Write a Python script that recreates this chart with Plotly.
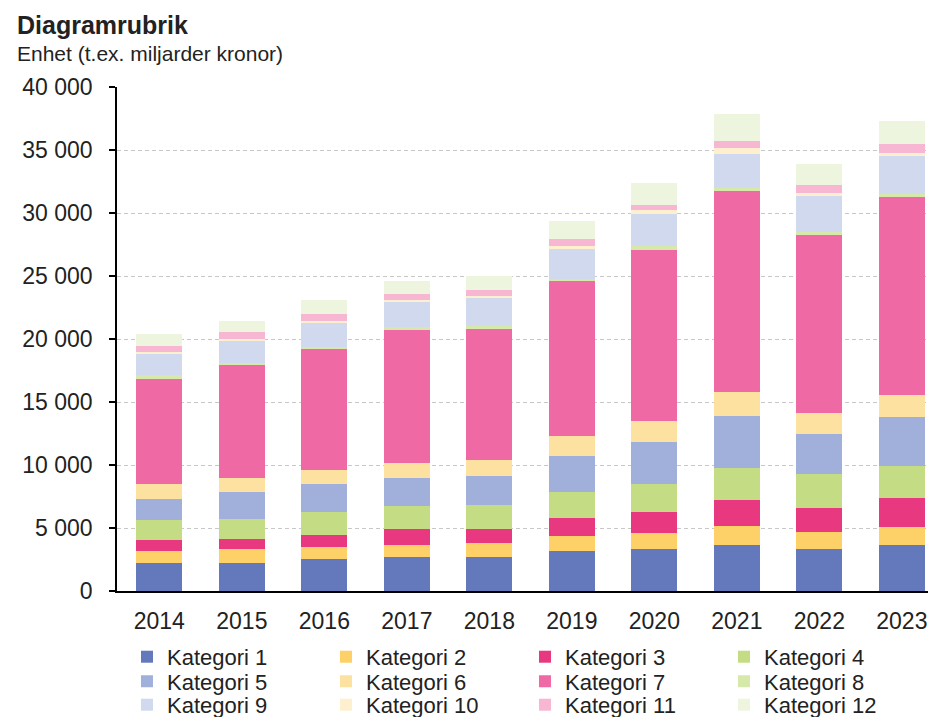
import plotly.graph_objects as go

years = ["2014", "2015", "2016", "2017", "2018", "2019", "2020", "2021", "2022", "2023"]

kat1 = [2240, 2240, 2550, 2710, 2710, 3210, 3370, 3690, 3350, 3690]
kat2 = [920, 1110, 950, 980, 1110, 1140, 1240, 1450, 1310, 1400]
kat3 = [850, 810, 980, 1240, 1110, 1450, 1640, 2060, 1940, 2300]
kat4 = [1610, 1590, 1770, 1800, 1930, 2070, 2250, 2570, 2720, 2560]
kat5 = [1720, 2090, 2250, 2250, 2250, 2880, 3360, 4150, 3170, 3830]
kat6 = [1140, 1140, 1080, 1190, 1260, 1580, 1610, 1880, 1640, 1800]
kat7 = [8370, 8980, 9650, 10520, 10450, 12240, 13610, 15960, 14140, 15680]
kat8 = [260, 140, 140, 270, 240, 220, 270, 260, 260, 260]
kat9 = [1670, 1790, 1950, 1980, 2250, 2350, 2550, 2650, 2780, 3020]
kat10 = [210, 140, 130, 180, 130, 260, 300, 480, 270, 210]
kat11 = [450, 500, 530, 450, 480, 530, 450, 600, 660, 710]
kat12 = [930, 920, 1140, 1060, 1050, 1440, 1770, 2090, 1640, 1880]

series_names = ["Kategori 1", "Kategori 2", "Kategori 3", "Kategori 4",
                "Kategori 5", "Kategori 6", "Kategori 7", "Kategori 8",
                "Kategori 9", "Kategori 10", "Kategori 11", "Kategori 12"]
series_values = [kat1, kat2, kat3, kat4, kat5, kat6, kat7, kat8, kat9, kat10, kat11, kat12]
colors = ["#6479bb", "#fdd068", "#e8387f", "#c4dd85",
          "#a1b0da", "#fde1a0", "#ef6aa4", "#d6e8aa",
          "#d0d9ee", "#fef0cf", "#f7b6d2", "#eef5de"]

y_ticks = [0, 5000, 10000, 15000, 20000, 25000, 30000, 35000, 40000]

FONT = "Liberation Sans, Arial, sans-serif"
TXT = "#222222"
legend_ids = ["legend", "legend", "legend", "legend",
              "legend2", "legend2", "legend2", "legend2",
              "legend3", "legend3", "legend3", "legend3"]

fig = go.Figure()
for name, vals, col, lg in zip(series_names, series_values, colors, legend_ids):
    fig.add_trace(go.Bar(x=years, y=vals, name=name, legend=lg,
                         marker=dict(color=col, line=dict(width=0)),
                         hoverinfo="x+y+name"))

def leg(ypos):
    return dict(orientation="h", x=0.0123, xanchor="left", y=ypos, yanchor="middle",
                entrywidth=154, traceorder="normal",
                font=dict(family=FONT, size=22, color=TXT),
                itemwidth=30, tracegroupgap=0, bgcolor="rgba(0,0,0,0)")

fig.update_layout(
    width=920, height=709,
    barmode="stack", bargap=0.442,
    plot_bgcolor="white", paper_bgcolor="white",
    margin=dict(l=109, r=0, t=79, b=125.5, pad=0, autoexpand=False),
    separators=", ",
    font=dict(family=FONT, size=22, color=TXT),
    showlegend=True,
    legend=leg(-0.1308),
    legend2=leg(-0.1794),
    legend3=leg(-0.2260),
    annotations=[
        dict(text="<b>Diagramrubrik</b>", xref="paper", yref="paper",
             x=-0.1258, y=1.1229, xanchor="left", yanchor="middle", showarrow=False,
             font=dict(family=FONT, size=25, color=TXT)),
        dict(text="Enhet (t.ex. miljarder kronor)", xref="paper", yref="paper",
             x=-0.1258, y=1.0674, xanchor="left", yanchor="middle", showarrow=False,
             font=dict(family=FONT, size=21, color=TXT)),
    ],
)

fig.update_xaxes(type="category", range=[-0.513, 9.317],
                 showline=True, linecolor="#000000", linewidth=1.5,
                 ticks="", showgrid=False, zeroline=False,
                 tickfont=dict(family=FONT, size=23, color=TXT),
                 ticklabelstandoff=9)
fig.update_yaxes(range=[0, 40000], tickvals=y_ticks, tickformat=",d",
                 showline=True, linecolor="#000000", linewidth=1.5,
                 ticks="outside", ticklen=6, tickcolor="#000000", tickwidth=1.5,
                 showgrid=True, gridcolor="#c8c8c8", gridwidth=1.2, griddash="4px,3px",
                 zeroline=False,
                 tickfont=dict(family=FONT, size=23, color=TXT),
                 ticklabelstandoff=12)

fig.write_html("out.html")
